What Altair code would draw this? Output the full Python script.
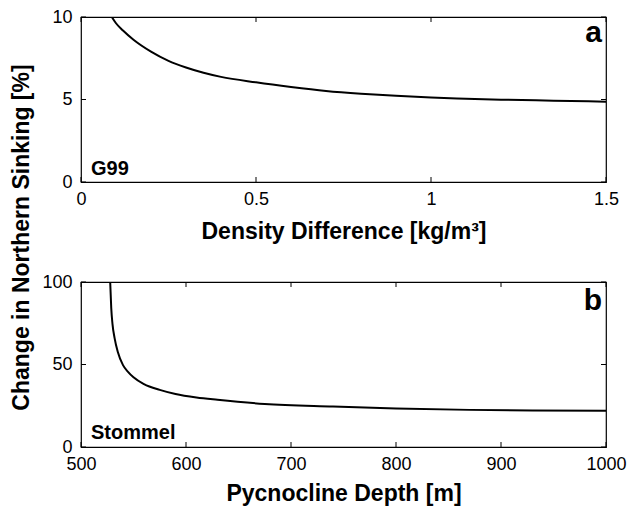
import altair as alt
import pandas as pd

# Panel a: G99 model, sinking change vs. density difference
density = [0.088, 0.10, 0.12, 0.15, 0.2, 0.25, 0.3, 0.35, 0.4, 0.5,
           0.6, 0.7, 0.8, 0.9, 1.0, 1.1, 1.2, 1.3, 1.4, 1.5]
sinking_g99 = [10.0, 9.62, 9.18, 8.62, 7.90, 7.34, 6.94, 6.62, 6.37, 6.04,
               5.76, 5.52, 5.35, 5.22, 5.12, 5.05, 4.99, 4.95, 4.91, 4.87]

# Panel b: Stommel model, sinking change vs. pycnocline depth
depth = [527.8, 528.8, 530, 532, 535, 540, 545, 550, 560, 575,
         590, 610, 630, 675, 740, 800, 870, 930, 1000]
sinking_stommel = [100, 84.2, 74.5, 66.0, 57.7, 49.6, 45.4, 42.2, 38.1, 34.6,
                   32.1, 30.0, 28.6, 26.1, 24.5, 23.3, 22.5, 22.1, 21.9]

density_ticks = [0, 0.5, 1, 1.5]
g99_ticks = [0, 5, 10]
depth_ticks = [500, 600, 700, 800, 900, 1000]
stommel_ticks = [0, 50, 100]

W, H = 525, 165
TICK = 5
FONT = "Liberation Sans"


def panel(xs, ys, xdom, ydom, xticks, yticks, xtitle, xtitle_y,
          letter, letter_y, model, model_y, ytitle=None):
    xscale = alt.Scale(domain=xdom, nice=False, zero=False)
    yscale = alt.Scale(domain=ydom, nice=False, zero=False)

    xaxis = alt.Axis(values=xticks, format=".4~g", ticks=False, grid=False,
                     domain=False, labelPadding=8, labelFlush=False,
                     title=xtitle, titleY=xtitle_y,
                     titleBaseline="alphabetic")
    yaxis_kw = dict(values=yticks, format=".4~g", ticks=False, grid=False,
                    domain=False, labelPadding=9, labelFlush=False)
    if ytitle:
        yaxis = alt.Axis(title=ytitle, titleX=-53, titleY=220,
                         titleAngle=-90, titleAlign="center",
                         titleBaseline="alphabetic", **yaxis_kw)
    else:
        yaxis = alt.Axis(title=None, **yaxis_kw)

    curve = alt.Chart(pd.DataFrame({"x": xs, "y": ys})).mark_line(
        color="black", strokeWidth=2, interpolate="monotone", clip=True
    ).encode(
        x=alt.X("x:Q", scale=xscale, axis=xaxis),
        y=alt.Y("y:Q", scale=yscale, axis=yaxis),
    )

    # inward-pointing tick marks on all four sides of the frame
    xt = pd.DataFrame({"t": xticks})
    yt = pd.DataFrame({"t": yticks})
    rule = dict(color="black", strokeWidth=1)
    xt_bottom = alt.Chart(xt).mark_rule(**rule).encode(
        x=alt.X("t:Q", scale=xscale, axis=xaxis),
        y=alt.value(H), y2=alt.value(H - TICK))
    xt_top = alt.Chart(xt).mark_rule(**rule).encode(
        x=alt.X("t:Q", scale=xscale, axis=xaxis),
        y=alt.value(0), y2=alt.value(TICK))
    yt_left = alt.Chart(yt).mark_rule(**rule).encode(
        y=alt.Y("t:Q", scale=yscale, axis=yaxis),
        x=alt.value(0), x2=alt.value(TICK))
    yt_right = alt.Chart(yt).mark_rule(**rule).encode(
        y=alt.Y("t:Q", scale=yscale, axis=yaxis),
        x=alt.value(W), x2=alt.value(W - TICK))

    letter_txt = alt.Chart(pd.DataFrame({"s": [letter]})).mark_text(
        font=FONT, fontWeight="bold", fontSize=30, align="right",
        baseline="alphabetic", color="black"
    ).encode(x=alt.value(W - 4), y=alt.value(letter_y), text="s:N")

    model_txt = alt.Chart(pd.DataFrame({"s": [model]})).mark_text(
        font=FONT, fontWeight="bold", fontSize=20, align="left",
        baseline="alphabetic", color="black"
    ).encode(x=alt.value(10), y=alt.value(model_y), text="s:N")

    return alt.layer(curve, xt_bottom, xt_top, yt_left, yt_right,
                     letter_txt, model_txt).properties(width=W, height=H)


pa = panel(density, sinking_g99, [0, 1.5], [0, 10], density_ticks, g99_ticks,
           "Density Difference [kg/m³]", 56, "a", 25, "G99", 158,
           ytitle="Change in Northern Sinking [%]")
pb = panel(depth, sinking_stommel, [500, 1000], [0, 100], depth_ticks,
           stommel_ticks, "Pycnocline Depth [m]", 53, "b", 28, "Stommel", 157)

chart = alt.vconcat(pa, pb, spacing=100, bounds="flush").properties(
    padding={"left": 9, "top": 7, "right": 0, "bottom": 0}
).configure_view(
    stroke="black", strokeWidth=1.2
).configure_axis(
    labelFont=FONT, labelFontSize=18, labelColor="black",
    titleFont=FONT, titleFontSize=23, titleFontWeight="bold",
    titleColor="black"
)

chart.save("out.html", embed_options={"renderer": "svg", "actions": False})
